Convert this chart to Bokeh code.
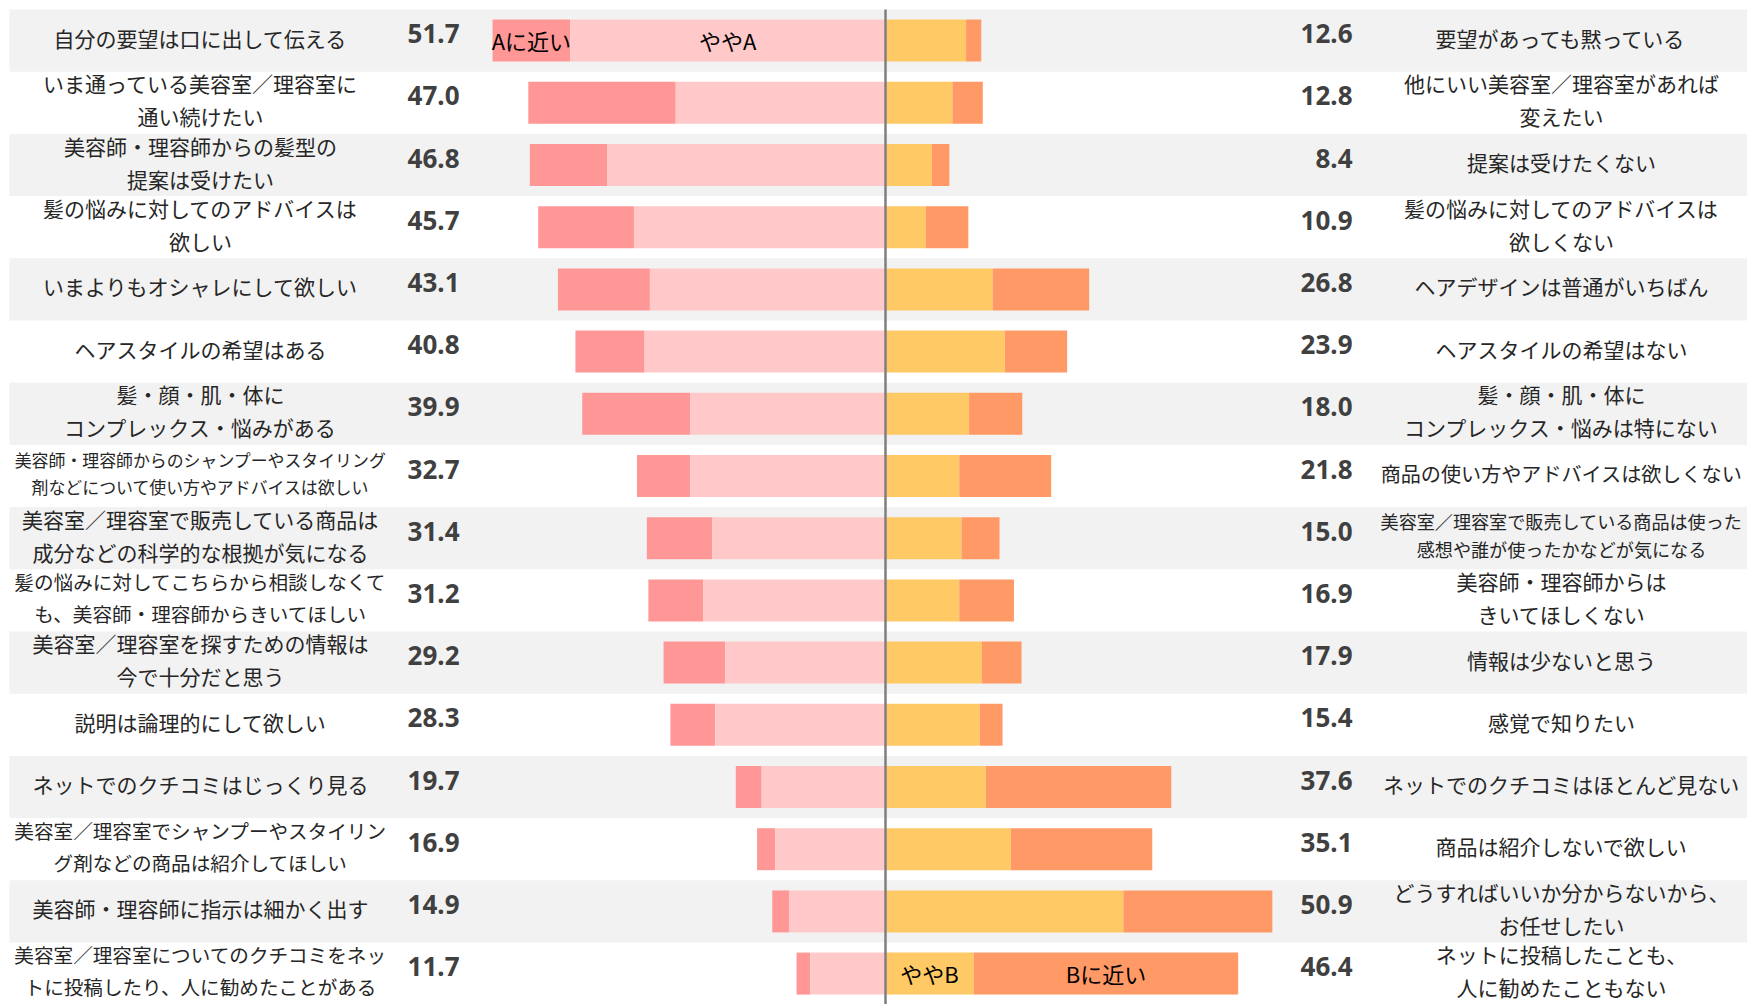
from bokeh.plotting import figure
from bokeh.models import Range1d, ColumnDataSource
from bokeh.core.properties import value
from bokeh.embed import file_html
from bokeh.resources import INLINE

left_labels = [
    "自分の要望は口に出して伝える",
    "いま通っている美容室／理容室に\n通い続けたい",
    "美容師・理容師からの髪型の\n提案は受けたい",
    "髪の悩みに対してのアドバイスは\n欲しい",
    "いまよりもオシャレにして欲しい",
    "ヘアスタイルの希望はある",
    "髪・顔・肌・体に\nコンプレックス・悩みがある",
    "美容師・理容師からのシャンプーやスタイリング\n剤などについて使い方やアドバイスは欲しい",
    "美容室／理容室で販売している商品は\n成分などの科学的な根拠が気になる",
    "髪の悩みに対してこちらから相談しなくて\nも、美容師・理容師からきいてほしい",
    "美容室／理容室を探すための情報は\n今で十分だと思う",
    "説明は論理的にして欲しい",
    "ネットでのクチコミはじっくり見る",
    "美容室／理容室でシャンプーやスタイリン\nグ剤などの商品は紹介してほしい",
    "美容師・理容師に指示は細かく出す",
    "美容室／理容室についてのクチコミをネッ\nトに投稿したり、人に勧めたことがある",
]
right_labels = [
    "要望があっても黙っている",
    "他にいい美容室／理容室があれば\n変えたい",
    "提案は受けたくない",
    "髪の悩みに対してのアドバイスは\n欲しくない",
    "ヘアデザインは普通がいちばん",
    "ヘアスタイルの希望はない",
    "髪・顔・肌・体に\nコンプレックス・悩みは特にない",
    "商品の使い方やアドバイスは欲しくない",
    "美容室／理容室で販売している商品は使った\n感想や誰が使ったかなどが気になる",
    "美容師・理容師からは\nきいてほしくない",
    "情報は少ないと思う",
    "感覚で知りたい",
    "ネットでのクチコミはほとんど見ない",
    "商品は紹介しないで欲しい",
    "どうすればいいか分からないから、\nお任せしたい",
    "ネットに投稿したことも、\n人に勧めたこともない",
]
a_total = [51.7, 47.0, 46.8, 45.7, 43.1, 40.8, 39.9, 32.7, 31.4, 31.2, 29.2, 28.3, 19.7, 16.9, 14.9, 11.7]
a_close = [10.2, 19.4, 10.2, 12.6, 12.1, 9.1, 14.2, 7.0, 8.6, 7.2, 8.1, 5.9, 3.4, 2.4, 2.2, 1.8]
a_somewhat = [41.5, 27.6, 36.6, 33.1, 31.0, 31.7, 25.7, 25.7, 22.8, 24.0, 21.1, 22.4, 16.3, 14.5, 12.7, 9.9]
b_somewhat = [10.6, 8.8, 6.1, 5.3, 14.1, 15.7, 11.0, 9.7, 10.0, 9.7, 12.7, 12.4, 13.2, 16.5, 31.3, 11.6]
b_close = [2.0, 4.0, 2.3, 5.6, 12.7, 8.2, 7.0, 12.1, 5.0, 7.2, 5.2, 3.0, 24.4, 18.6, 19.6, 34.8]
b_total = [12.6, 12.8, 8.4, 10.9, 26.8, 23.9, 18.0, 21.8, 15.0, 16.9, 17.9, 15.4, 37.6, 35.1, 50.9, 46.4]
seg_names = ["Aに近い", "ややA", "ややB", "Bに近い"]

C_ACLOSE = "#FF9797"
C_ASOME = "#FFC9C9"
C_BSOME = "#FFC966"
C_BCLOSE = "#FF9966"

W, H = 1747, 1004
CX = 885.0       # centre line, figure px
PXU = 7.6        # px per percentage point
ROW_H = 62.2
TOP = 9.0
n = len(a_total)

def px2x(px):
    return (px - CX) / PXU

y_top = -(TOP + ROW_H / 2) / ROW_H
y_bot = (H - TOP - ROW_H / 2) / ROW_H

p = figure(width=W, height=H, output_backend="svg", toolbar_location=None,
           x_range=Range1d(px2x(0), px2x(W)), y_range=Range1d(y_bot, y_top),
           x_axis_location=None, y_axis_location=None, min_border=0,
           outline_line_color=None)
p.grid.visible = False
p.background_fill_color = "white"
p.border_fill_color = "white"

rows = list(range(n))
band_rows = [i for i in rows if i % 2 == 0]
p.quad(left=px2x(9), right=px2x(W), top=[i - 0.5 for i in band_rows],
       bottom=[i + 0.5 for i in band_rows], fill_color="#F2F2F2", line_color=None)

BH = 0.675
p.hbar(y=rows, left=[-t for t in a_total], right=[-s for s in a_somewhat], height=BH,
       fill_color=C_ACLOSE, line_color=None)
p.hbar(y=rows, left=[-s for s in a_somewhat], right=0, height=BH,
       fill_color=C_ASOME, line_color=None)
p.hbar(y=rows, left=0, right=b_somewhat, height=BH, fill_color=C_BSOME, line_color=None)
p.hbar(y=rows, left=b_somewhat, right=[s + c for s, c in zip(b_somewhat, b_close)],
       height=BH, fill_color=C_BCLOSE, line_color=None)

p.segment(x0=0, x1=0, y0=-0.5, y1=n - 0.5, line_color="#7F7F7F", line_width=2.5)

FONT = "Noto Sans CJK JP"

def fsize(lbl, maxw, maxs=21.0):
    longest = max(len(s) for s in lbl.split("\n"))
    return "%.1fpx" % min(maxs, maxw / longest)

src_l = ColumnDataSource(dict(x=[px2x(200)] * n, y=rows, text=left_labels,
                              fs=[fsize(t, 372) for t in left_labels]))
p.text(x="x", y="y", text="text", source=src_l, text_font=value(FONT),
       text_font_size="fs", text_align="center", text_baseline="middle",
       text_line_height=1.1, text_color="#262626", y_offset=-3)
src_r = ColumnDataSource(dict(x=[px2x(1561)] * n, y=rows, text=right_labels,
                              fs=[fsize(t, 362) for t in right_labels]))
p.text(x="x", y="y", text="text", source=src_r, text_font=value(FONT),
       text_font_size="fs", text_align="center", text_baseline="middle",
       text_line_height=1.1, text_color="#262626", y_offset=-3)

p.text(x=[px2x(459)] * n, y=rows, text=["%.1f" % v for v in a_total],
       text_font=value("Noto Sans"), text_font_style="bold", text_font_size="26px",
       text_align="right", text_baseline="middle", text_color="#404040", y_offset=-7)
p.text(x=[px2x(1352)] * n, y=rows, text=["%.1f" % v for v in b_total],
       text_font=value("Noto Sans"), text_font_style="bold", text_font_size="26px",
       text_align="right", text_baseline="middle", text_color="#404040", y_offset=-7)

# in-bar segment names (first and last rows)
last = n - 1
seg_x = [-(a_total[0] + a_somewhat[0]) / 2, -a_somewhat[0] / 2,
         b_somewhat[last] / 2, b_somewhat[last] + b_close[last] / 2]
seg_y = [0, 0, last, last]
p.text(x=seg_x, y=seg_y, text=seg_names, text_font=value(FONT), text_font_size="22px",
       text_align="center", text_baseline="middle", text_color="#000000", y_offset=-1)

open("out.html", "w").write(file_html(p, INLINE))
